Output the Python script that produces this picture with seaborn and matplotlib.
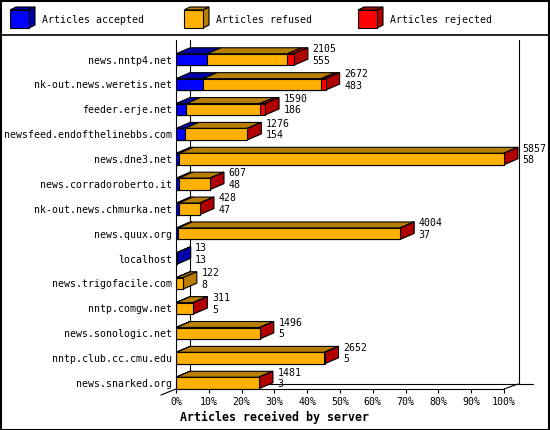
import matplotlib
matplotlib.use("Agg")
import matplotlib.pyplot as plt
from matplotlib.patches import Polygon, Rectangle
from matplotlib.lines import Line2D
import seaborn as sns
import pandas as pd
import numpy as np

servers = ["news.nntp4.net", "nk-out.news.weretis.net", "feeder.erje.net",
           "newsfeed.endofthelinebbs.com", "news.dne3.net", "news.corradoroberto.it",
           "nk-out.news.chmurka.net", "news.quux.org", "localhost",
           "news.trigofacile.com", "nntp.comgw.net", "news.sonologic.net",
           "nntp.club.cc.cmu.edu", "news.snarked.org"]
total = [2105, 2672, 1590, 1276, 5857, 607, 428, 4004, 13, 122, 311, 1496, 2652, 1481]
accepted = [555, 483, 186, 154, 58, 48, 47, 37, 13, 8, 5, 5, 5, 3]
rejected = [115, 80, 90, 3, 5, 2, 2, 3, 0, 0, 2, 2, 2, 2]
legend_labels = ["Articles accepted", "Articles refused", "Articles rejected"]
xtick_values = [0, 10, 20, 30, 40, 50, 60, 70, 80, 90, 100]
xlabel = "Articles received by server"

BLUE, BLUE_D = "#0000FF", "#0000A8"
ORANGE, ORANGE_D = "#FFB000", "#B87E00"
RED, RED_D = "#FF0000", "#B00000"
fronts = [BLUE, ORANGE, RED]
darks = [BLUE_D, ORANGE_D, RED_D]

W, H = 550, 430
MONO = "DejaVu Sans Mono"
FS = 7.1

sns.set_theme(style="white")
plt.rcParams["font.family"] = [MONO]

mx = max(total)
df = pd.DataFrame({
    "server": servers,
    "acc": [a / mx * 100 for a in accepted],
    "accref": [(t - r) / mx * 100 for t, r in zip(total, rejected)],
    "tot": [t / mx * 100 for t in total],
})

fig = plt.figure(figsize=(W / 100, H / 100), dpi=100)
L, R, T, B = 176, 540, 40, 389
ax = fig.add_axes([L / W, 1 - B / H, (R - L) / W, (B - T) / H])
ax.patch.set_visible(False)
pxper = (504 - 176) / 100.0
rowsp = (383 - 59.5) / 13.0

bh = 0.46
for col, c in zip(["tot", "accref", "acc"], [RED, ORANGE, BLUE]):
    sns.barplot(data=df, x=col, y="server", order=servers, color=c, saturation=1,
                width=bh, edgecolor="black", linewidth=0.8, errorbar=None,
                orient="h", ax=ax, zorder=3)

ax.set_xlim(0, (R - L) / pxper)
ax.set_ylim(13 + (B - 383) / rowsp, -(59.5 - T) / rowsp)

dx = 14 / pxper
dy = 6 / rowsp
for i in range(len(servers)):
    bounds = [0, df["acc"][i], df["accref"][i], df["tot"][i]]
    yt = i - bh / 2
    yb = i + bh / 2
    last = None
    for k in range(3):
        x0, x1 = bounds[k], bounds[k + 1]
        if x1 - x0 <= 0:
            continue
        last = k
        poly = Polygon([(x0, yt), (x1, yt), (x1 + dx, yt - dy), (x0 + dx, yt - dy)],
                       closed=True, facecolor=darks[k], edgecolor="black",
                       linewidth=0.8, zorder=2)
        ax.add_patch(poly)
    if last is not None:
        x1 = bounds[-1]
        side = Polygon([(x1, yt), (x1, yb), (x1 + dx, yb - dy), (x1 + dx, yt - dy)],
                       closed=True, facecolor=darks[last], edgecolor="black",
                       linewidth=0.8, zorder=2)
        ax.add_patch(side)
    xt = df["tot"][i] + dx + 4.5 / pxper
    ax.text(xt, i - 10.5 / rowsp, str(total[i]), fontsize=FS, family=MONO,
            va="center", ha="left", color="black")
    ax.text(xt, i + 1.2 / rowsp, str(accepted[i]), fontsize=FS, family=MONO,
            va="center", ha="left", color="black")

for s in ax.spines.values():
    s.set_visible(False)
ax.set_xticks(xtick_values)
ax.set_xticklabels([f"{v}%" for v in xtick_values])
ax.tick_params(axis="x", bottom=True, length=3, width=0.8, color="black",
               direction="out", pad=3, labelsize=FS, labelcolor="black")
ax.tick_params(axis="y", left=False, length=0, pad=3, labelsize=FS, labelcolor="black")
ax.set_xlabel("")
ax.set_ylabel("")


def fl(xs, ys, z=1, lw=0.8):
    ln = Line2D([x / W for x in xs], [1 - y / H for y in ys], transform=fig.transFigure,
                color="black", linewidth=lw, zorder=z, clip_on=False)
    ax.add_line(ln)

# back walls (behind bars)
fl([190, 190], [40, 384], z=1)
fl([519, 519], [40, 384], z=1)
fl([190, 533], [384, 384], z=1)
# front axes
fl([176, 176], [40, 389], z=5)
fl([176, 504], [389, 389], z=5)
fl([504, 518], [389, 384], z=5)
fl([161, 176], [395, 389], z=5)

fig.text(180 / W, 1 - 417 / H, xlabel, fontsize=8.4, fontweight="bold", family=MONO,
         ha="left", va="center", color="black")

fig.add_artist(Line2D([0, 1], [1 - 35 / H, 1 - 35 / H], transform=fig.transFigure,
                      color="black", linewidth=1.2))
fig.add_artist(Rectangle((0.5 / W, 0.5 / H), 1 - 1.5 / W, 1 - 1.5 / H, transform=fig.transFigure,
                         fill=False, edgecolor="black", linewidth=1.5))

for k, (lx, lab) in enumerate(zip([10, 184, 358], legend_labels)):
    x0, x1, y0, y1 = lx, lx + 19, 10, 28
    ddx, ddy = 6, 3
    pts_side = [(x1, y0), (x1 + ddx, y0 - ddy), (x1 + ddx, y1 - ddy), (x1, y1)]
    pts_top = [(x0, y0), (x0 + ddx, y0 - ddy), (x1 + ddx, y0 - ddy), (x1, y0)]
    for pts, c in [(pts_side, darks[k]), (pts_top, darks[k])]:
        fig.add_artist(Polygon([(x / W, 1 - y / H) for x, y in pts], closed=True,
                               transform=fig.transFigure, facecolor=c,
                               edgecolor="black", linewidth=0.8))
    fig.add_artist(Rectangle((x0 / W, 1 - y1 / H), (x1 - x0) / W, (y1 - y0) / H,
                             transform=fig.transFigure, facecolor=fronts[k],
                             edgecolor="black", linewidth=0.8))
    fig.text((lx + 32) / W, 1 - 20 / H, lab, fontsize=FS, family=MONO,
             ha="left", va="center", color="black")

fig.savefig("out.png", dpi=100, facecolor="white")
